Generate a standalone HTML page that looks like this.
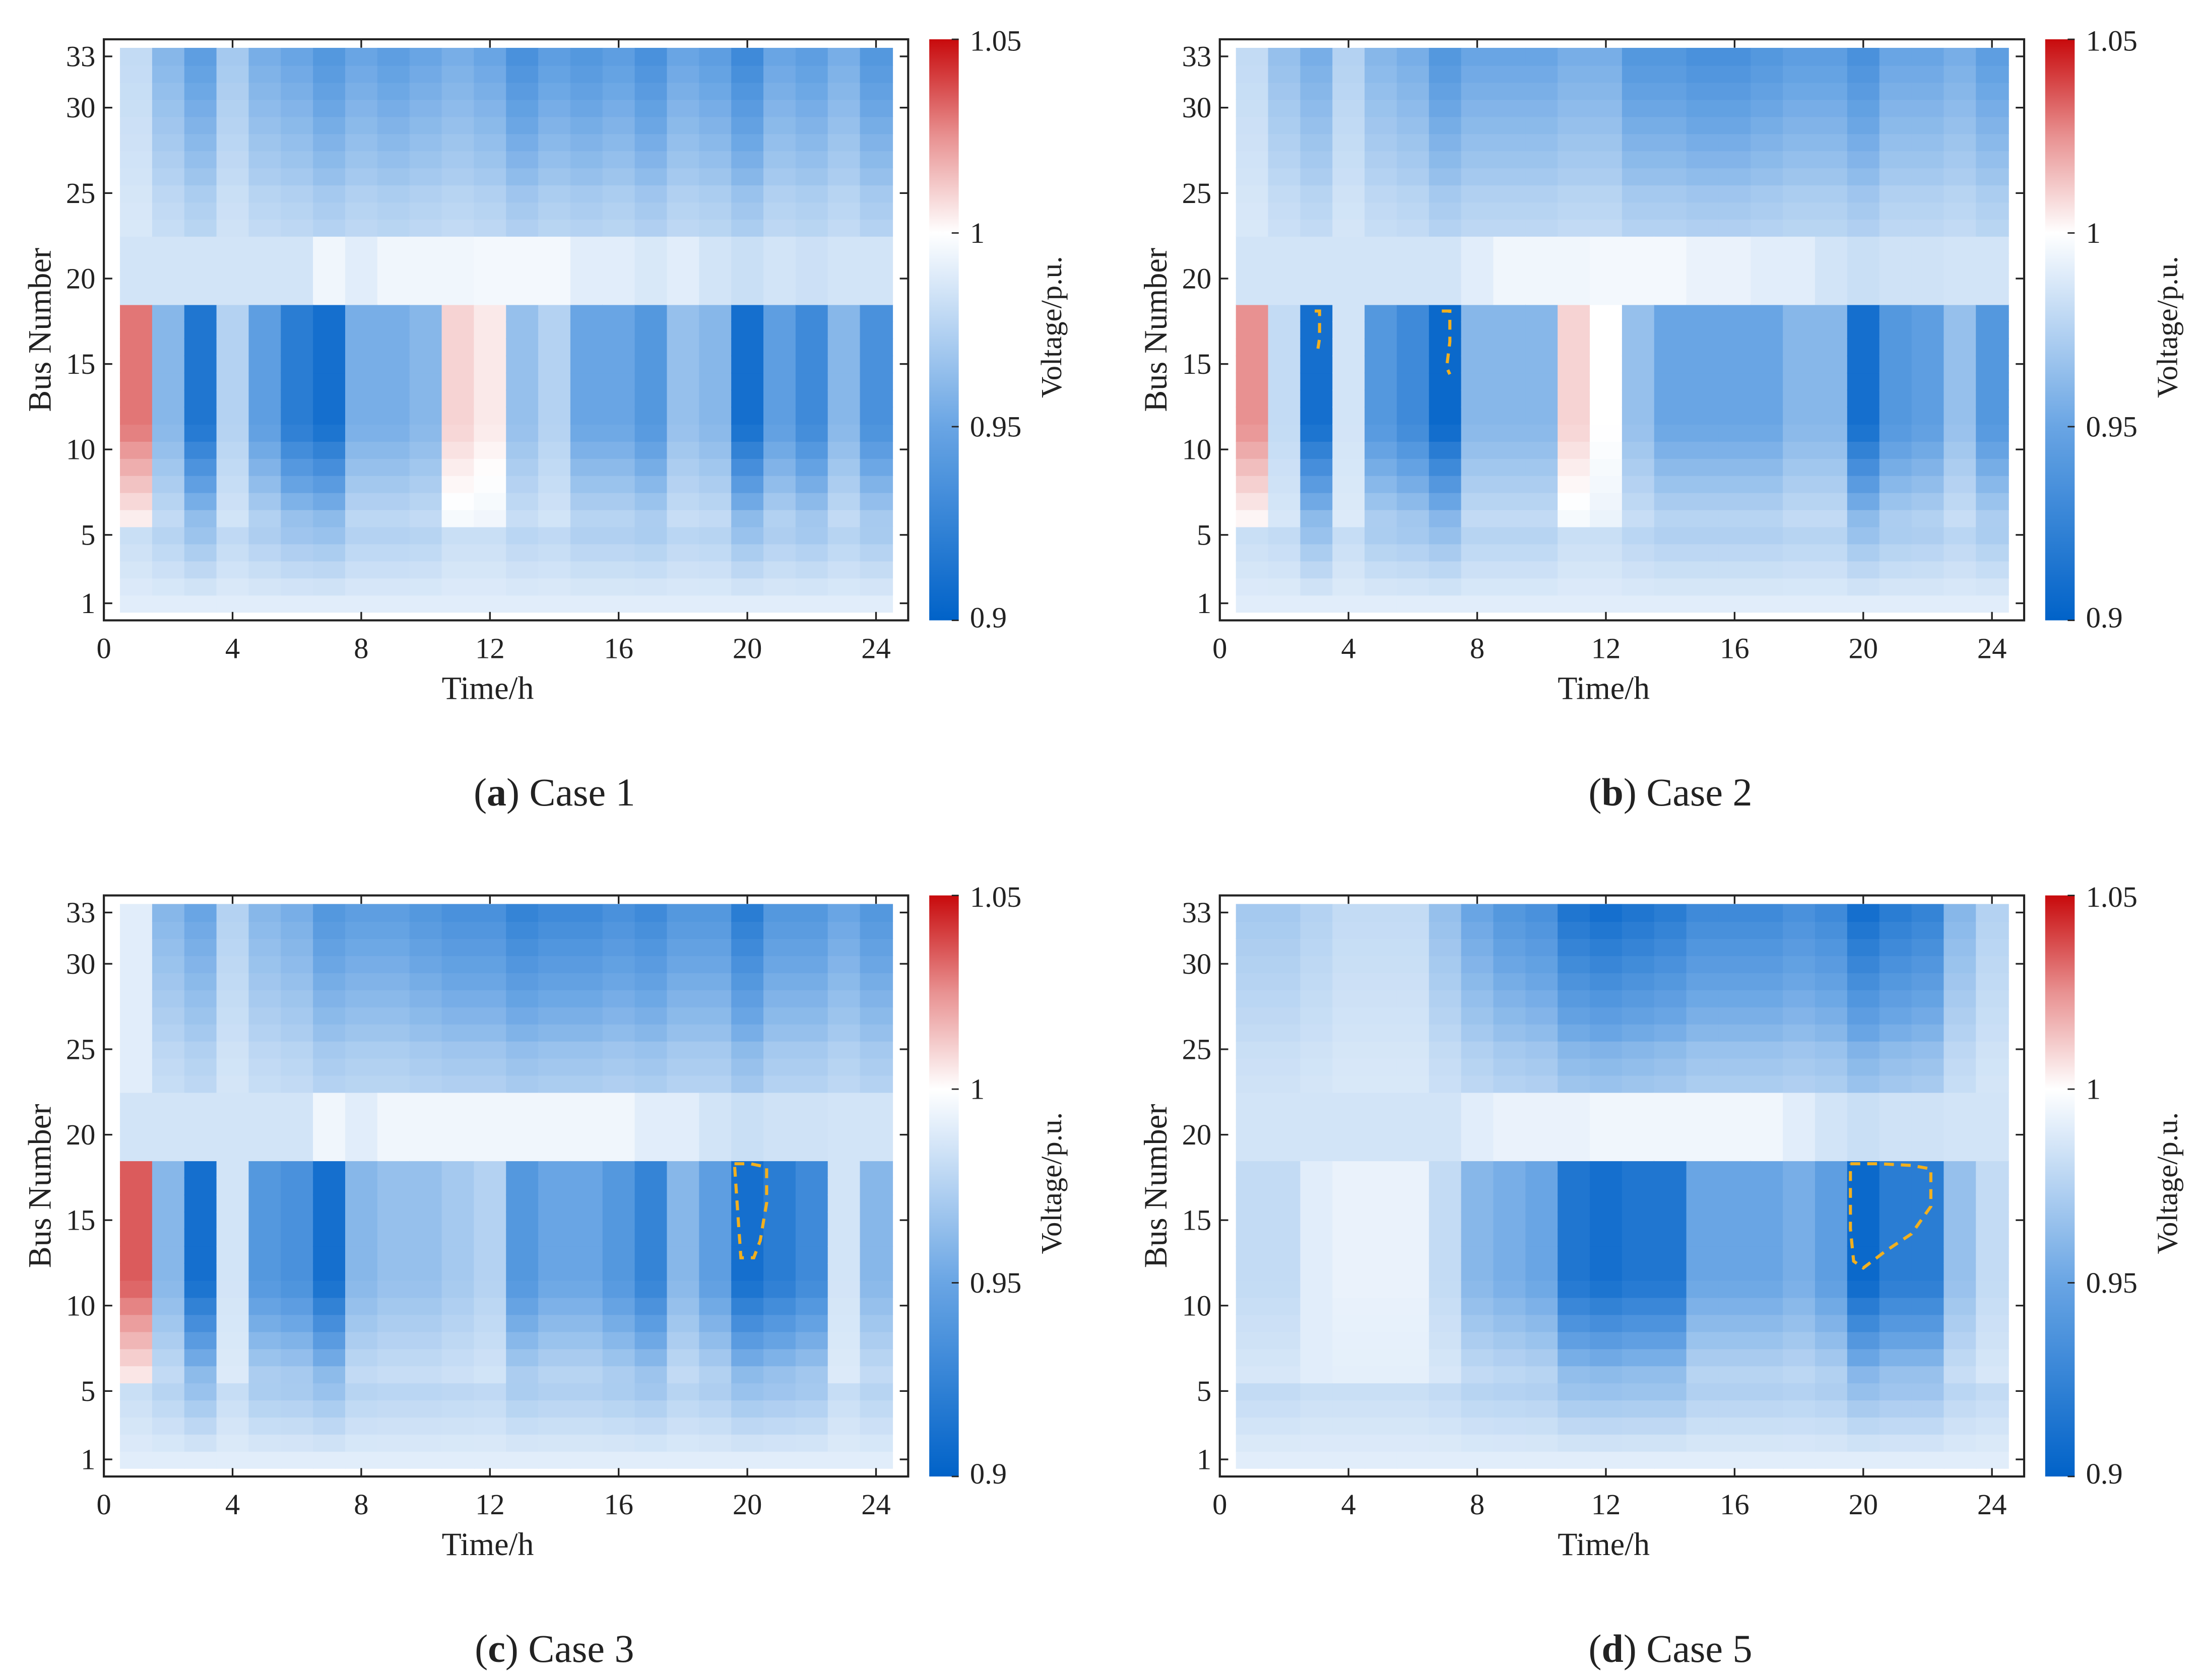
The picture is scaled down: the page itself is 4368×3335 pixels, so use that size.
<!DOCTYPE html>
<html><head><meta charset="utf-8">
<style>
html,body{margin:0;padding:0;background:#fff;}
svg{display:block;}
text{font-family:"Liberation Serif",serif;fill:#222;}
</style></head>
<body>
<svg id="fig" width="4368" height="3335" viewBox="0 0 1568 1197" preserveAspectRatio="none" xmlns="http://www.w3.org/2000/svg"></svg>
<script>
// ---- data (voltage p.u.) per hour 1..24 ----
const hours = [1,2,3,4,5,6,7,8,9,10,11,12,13,14,15,16,17,18,19,20,21,22,23,24];
const caseNames = ["Case 1","Case 2","Case 3","Case 5"];
const caseLetters = ["a","b","c","d"];
// lateral feeder (bus 6-18) end voltage
const lat1 = [1.03,0.96,0.915,0.975,0.945,0.92,0.91,0.955,0.955,0.96,1.01,1.005,0.965,0.975,0.95,0.95,0.94,0.965,0.96,0.91,0.945,0.93,0.96,0.935];
const lat2 = [1.025,0.98,0.91,0.985,0.94,0.93,0.905,0.96,0.96,0.96,1.01,1.0,0.965,0.95,0.95,0.95,0.95,0.96,0.96,0.91,0.94,0.945,0.965,0.94];
const lat3 = [1.035,0.96,0.91,0.985,0.94,0.935,0.91,0.96,0.965,0.965,0.97,0.975,0.94,0.95,0.95,0.94,0.925,0.96,0.945,0.91,0.92,0.93,0.985,0.96];
const lat5 = [0.98,0.98,0.99,0.993,0.993,0.993,0.98,0.96,0.955,0.95,0.915,0.91,0.915,0.915,0.95,0.95,0.95,0.955,0.945,0.905,0.92,0.92,0.965,0.98];
// top branch (bus 26-33) end voltage
const top1 = [0.98,0.96,0.945,0.97,0.955,0.95,0.94,0.95,0.945,0.95,0.955,0.95,0.935,0.945,0.94,0.945,0.935,0.95,0.945,0.93,0.95,0.945,0.955,0.94];
const top2 = [0.98,0.965,0.955,0.975,0.96,0.955,0.94,0.95,0.95,0.95,0.955,0.955,0.94,0.94,0.935,0.935,0.94,0.945,0.945,0.935,0.95,0.95,0.955,0.945];
const top3 = [0.99,0.96,0.95,0.975,0.96,0.955,0.94,0.945,0.945,0.94,0.935,0.935,0.925,0.93,0.93,0.935,0.93,0.94,0.94,0.92,0.94,0.94,0.95,0.94];
const top5 = [0.97,0.97,0.975,0.98,0.98,0.98,0.965,0.95,0.94,0.935,0.915,0.91,0.915,0.92,0.93,0.93,0.93,0.935,0.93,0.91,0.92,0.925,0.96,0.975];
// middle branch (bus 19-22)
const mid1 = [0.985,0.985,0.985,0.985,0.985,0.985,0.995,0.99,0.995,0.995,0.995,0.996,0.996,0.996,0.99,0.99,0.987,0.99,0.985,0.982,0.985,0.983,0.985,0.985];
const mid2 = [0.985,0.985,0.985,0.985,0.985,0.985,0.985,0.99,0.995,0.995,0.995,0.996,0.996,0.996,0.993,0.993,0.99,0.99,0.985,0.982,0.984,0.984,0.985,0.985];
const mid3 = [0.985,0.985,0.985,0.985,0.985,0.985,0.995,0.99,0.995,0.995,0.995,0.995,0.995,0.995,0.995,0.995,0.99,0.99,0.985,0.982,0.984,0.984,0.985,0.985];
const mid5 = [0.985,0.985,0.985,0.985,0.985,0.985,0.985,0.99,0.993,0.993,0.993,0.995,0.995,0.995,0.995,0.995,0.995,0.99,0.985,0.982,0.984,0.984,0.985,0.985];
const latData = [lat1,lat2,lat3,lat5];
const topData = [top1,top2,top3,top5];
const midData = [mid1,mid2,mid3,mid5];
const xTicks = [0,4,8,12,16,20,24];
const yTicks = [1,5,10,15,20,25,30,33];
const cbTicks = [0.9,0.95,1,1.05];
const cbLabels = ["0.9","0.95","1","1.05"];
// dashed contour lines (hour, bus)
const contourH = [[],[[2.95,3.1,3.1,3.05],[6.9,7.15,7.15,7.05,7.15]],[[19.6,20.1,20.6,20.6,20.4,20.2,19.8,19.7,19.6]],[[19.6,20.5,21.5,22.1,22.1,21.5,20.7,20.0,19.7,19.6,19.6]]];
const contourB = [[],[[18.1,18.1,16.5,15.9],[18.1,18.1,16.3,14.8,14.4]],[[18.3,18.3,18.1,16.0,13.8,12.8,12.8,15.5,18.3]],[[18.3,18.3,18.2,18.0,15.8,14.2,13.2,12.2,12.6,14.5,18.3]]];

const NS="http://www.w3.org/2000/svg";
const svg=document.getElementById('fig');
function el(tag,attrs,parent){const e=document.createElementNS(NS,tag);for(const k in attrs)e.setAttribute(k,attrs[k]);(parent||svg).appendChild(e);return e;}

function color(v){
  const stops=[[0.9,[0,98,200]],[0.95,[105,165,228]],[1.0,[255,255,255]],[1.025,[232,145,145]],[1.05,[200,10,12]]];
  if(v<=0.9)return 'rgb(0,98,200)'; if(v>=1.05)return 'rgb(200,10,12)';
  for(let i=0;i<stops.length-1;i++){const a=stops[i],b=stops[i+1];if(v>=a[0]&&v<=b[0]){const t=(v-a[0])/(b[0]-a[0]);const c=a[1].map((x,j)=>Math.round(x+(b[1][j]-x)*t));return `rgb(${c[0]},${c[1]},${c[2]})`;}}
}
function busValue(p,h,b){
  const lat=latData[p][h],top=topData[p][h],mid=midData[p][h];
  if(b===1)return 0.99;
  if(b<=5)return 0.99+(Math.min(lat,0.99)-0.99)*(0.05*(b-1)) - 0.002*(b-1);
  if(b<=18){const w=Math.min(1,0.35+0.12*(b-6));return 0.99+(lat-0.99)*w;}
  if(b<=22)return mid;
  if(b<=25)return 0.99+(top-0.99)*(0.3+0.05*(b-23));
  return 0.99+(top-0.99)*(0.5+0.5*(b-26)/7);
}

const offX=[0,795,0,795], offY=[0,0,610,610];
for(let p=0;p<4;p++){
  const ox=offX[p], oy=offY[p];
  const x0=74+ox, x1=647+ox, yB=442+oy, yT=28+oy;
  const xs=h=>x0+(x1-x0)*h/25;
  const ys=b=>yB-(yB-yT)*b/34;
  const g=el('g',{});
  
  
  const cells=el('g',{},g);
  
  
  for(let hi=0;hi<hours.length;hi++){
    for(let b=1;b<=33;b++){
      const v=busValue(p,hi,b);
      const r=el('rect',{x:xs(hours[hi]-0.5),y:ys(b+0.5),width:xs(1)-xs(0)+0.6,height:ys(0)-ys(1)+0.6,fill:color(v)},cells);
      
      
    }
  }
  for(let c=0;c<contourH[p].length;c++){
    const pts=contourH[p][c].map((h,i)=>xs(h)+','+ys(contourB[p][c][i])).join(' ');
    const pl=el('polyline',{points:pts,fill:'none',stroke:'#f2b01e','stroke-width':2.2,'stroke-dasharray':'7,5'},g);
    
    
  }
  const frame=el('rect',{x:x0,y:yT,width:x1-x0,height:yB-yT,fill:'none',stroke:'#222','stroke-width':1.5},g);
  
  
  for(const t of xTicks){
    el('line',{x1:xs(t),x2:xs(t),y1:yB,y2:yB-6,stroke:'#222','stroke-width':1.2},g);
    el('line',{x1:xs(t),x2:xs(t),y1:yT,y2:yT+6,stroke:'#222','stroke-width':1.2},g);
    const tx=el('text',{x:xs(t),y:yB+27,'text-anchor':'middle','font-size':21},g);
    tx.textContent=t;
    
    
  }
  for(const t of yTicks){
    el('line',{x1:x0,x2:x0+6,y1:ys(t),y2:ys(t),stroke:'#222','stroke-width':1.2},g);
    el('line',{x1:x1,x2:x1-6,y1:ys(t),y2:ys(t),stroke:'#222','stroke-width':1.2},g);
    const ty=el('text',{x:x0-6,y:ys(t)+7,'text-anchor':'end','font-size':21},g);
    ty.textContent=t;
    
    
  }
  const xl=el('text',{x:(x0+x1)/2-13,y:yB+56,'text-anchor':'middle','font-size':23},g);
  xl.textContent='Time/h';
  
  
  const yl=el('text',{x:0,y:0,'text-anchor':'middle','font-size':23,transform:`translate(${x0-38},${(yT+yB)/2}) rotate(-90)`},g);
  yl.textContent='Bus Number';
  
  
  const cx=662+ox, cw=21;
  const defs=el('defs',{},g);
  const lg=el('linearGradient',{id:'cb'+p,x1:0,y1:1,x2:0,y2:0},defs);
  for(let i=0;i<=30;i++){const v=0.9+0.15*i/30;el('stop',{offset:(i/30),'stop-color':color(v)},lg);}
  const cb=el('rect',{x:cx,y:yT,width:cw,height:yB-yT,fill:`url(#cb${p})`},g);
  
  
  const cys=v=>yB-(yB-yT)*(v-0.9)/0.15;
  for(let i=0;i<cbTicks.length;i++){
    el('line',{x1:cx+cw-5,x2:cx+cw,y1:cys(cbTicks[i]),y2:cys(cbTicks[i]),stroke:'#222','stroke-width':1},g);
    const ct=el('text',{x:cx+cw+8,y:cys(cbTicks[i])+(i===0?5:i===3?8:7),'font-size':21},g);
    ct.textContent=cbLabels[i];
    
    
  }
  const cl=el('text',{x:0,y:0,'text-anchor':'middle','font-size':21,transform:`translate(${cx+94},${yT+205}) rotate(-90)`},g);
  cl.textContent='Voltage/p.u.';
  
  
  const cap=el('text',{x:395+ox,y:574+oy,'text-anchor':'middle','font-size':28},g);
  cap.innerHTML='(<tspan font-weight="bold">'+caseLetters[p]+'</tspan>) '+caseNames[p];
  
  
}
</script>
</body></html>
